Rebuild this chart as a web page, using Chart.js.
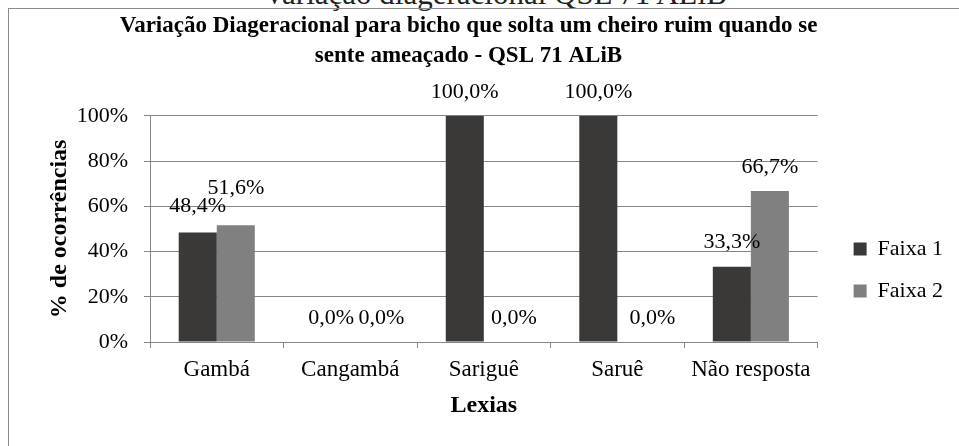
<!DOCTYPE html>
<html>
<head>
<meta charset="utf-8">
<script src="https://cdn.jsdelivr.net/npm/chart.js@4.4.1/dist/chart.umd.min.js"></script>
<style>
  body { margin: 0; background: #fff; }
  #wrap { position: relative; width: 959px; height: 446px; overflow: hidden; }
  #frame { position: absolute; left: 8px; top: 8px; width: 1000px; height: 500px;
           border-left: 1px solid #8a8a8a; border-top: 1px solid #8a8a8a; }
  #cortado { position: absolute; left: 0; top: -21px; width: 990px; text-align: center;
             font: 31px "Liberation Serif", serif; line-height: 30px; color: #222; white-space: nowrap; }
  canvas { position: absolute; left: 0; top: 0; }
</style>
</head>
<body>
<div id="wrap">
  <div id="cortado">Variação diageracional QSL 71 ALiB</div>
  <div id="frame"></div>
  <canvas id="grafico" width="959" height="446"></canvas>
</div>
<script>
const categorias = ["Gambá", "Cangambá", "Sariguê", "Saruê", "Não resposta"];
const faixa1 = [48.4, 0.0, 100.0, 100.0, 33.3];
const faixa2 = [51.6, 0.0, 0.0, 0.0, 66.7];
const ticksY = [0, 20, 40, 60, 80, 100];

const fonte = '"Liberation Serif", serif';
Chart.defaults.font.family = fonte;
Chart.defaults.color = "#000";

// pequenos deslocamentos dos rótulos, como no original do Excel
const ajustes = [
  { 0: [0, -2] },
  { 0: [0, -13], 1: [12, 0], 2: [11, 0], 3: [16, 0] },
];

const rotulos = {
  id: "rotulos",
  afterDatasetsDraw(chart) {
    const ctx = chart.ctx;
    ctx.save();
    ctx.font = "22px " + fonte;
    ctx.fillStyle = "#000";
    ctx.textAlign = "center";
    ctx.textBaseline = "middle";
    chart.data.datasets.forEach((ds, i) => {
      chart.getDatasetMeta(i).data.forEach((bar, j) => {
        const a = ajustes[i][j] || [0, 0];
        const txt = ds.data[j].toFixed(1).replace(".", ",") + "%";
        ctx.fillText(txt, bar.x + a[0], bar.y - 24 + a[1]);
      });
    });
    ctx.restore();
  },
};

// a legenda fica mais abaixo e mais à direita no original
const moverLegenda = {
  id: "moverLegenda",
  afterLayout(chart) {
    const l = chart.legend;
    const dx = 16, dy = 47;
    l.left += dx; l.right += dx;
    l.top += dy; l.bottom += dy;
  },
};

new Chart(document.getElementById("grafico"), {
  type: "bar",
  data: {
    labels: categorias,
    datasets: [
      { label: "Faixa 1", data: faixa1, backgroundColor: "#3a3937" },
      { label: "Faixa 2", data: faixa2, backgroundColor: "#808080" },
    ],
  },
  options: {
    responsive: false,
    animation: false,
    devicePixelRatio: 1,
    categoryPercentage: 0.57,
    barPercentage: 1.0,
    layout: { padding: { left: 0, right: 22, top: 0, bottom: 0 } },
    plugins: {
      title: {
        display: true,
        text: [
          "Variação Diageracional para bicho que solta um cheiro ruim quando se",
          "sente ameaçado - QSL 71 ALiB",
        ],
        color: "#000",
        font: { size: 23, weight: "bold", lineHeight: 1.3 },
        padding: { top: 11, bottom: 45 },
      },
      legend: {
        position: "right",
        labels: {
          boxWidth: 13,
          boxHeight: 13,
          padding: 20,
          color: "#000",
          font: { size: 22 },
        },
      },
      tooltip: { enabled: false },
    },
    scales: {
      x: {
        grid: { offset: true, drawOnChartArea: false, color: "#868686", tickLength: 6 },
        border: { color: "#868686" },
        ticks: { font: { size: 23 }, color: "#000", padding: 8 },
        title: {
          display: true,
          text: "Lexias",
          color: "#000",
          font: { size: 24, weight: "bold" },
          padding: { top: 0, bottom: 26 },
        },
        afterFit: (s) => { s.height = 104; },
      },
      y: {
        min: 0,
        max: 100,
        afterBuildTicks: (s) => { s.ticks = ticksY.map((v) => ({ value: v })); },
        ticks: { font: { size: 22 }, color: "#000", padding: 16, callback: (v) => v + "%" },
        grid: { color: "#868686", tickLength: 6 },
        border: { color: "#868686" },
        title: {
          display: true,
          text: "% de ocorrências",
          color: "#000",
          font: { size: 24, weight: "bold" },
          padding: { top: 45, bottom: 0 },
        },
        afterFit: (s) => { s.width = 150; },
      },
    },
  },
  plugins: [rotulos, moverLegenda],
});
</script>
</body>
</html>
